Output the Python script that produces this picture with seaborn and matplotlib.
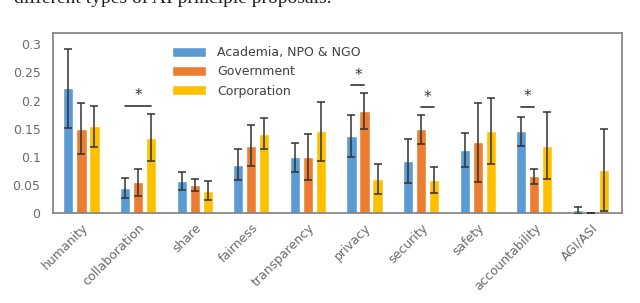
import matplotlib
matplotlib.use("Agg")

import numpy as np
import pandas as pd
import seaborn as sns
import matplotlib.pyplot as plt

# ---------------------------------------------------------------- data
categories = ["humanity", "collaboration", "share", "fairness", "transparency",
              "privacy", "security", "safety", "accountability", "AGI/ASI"]
groups = ["Academia, NPO & NGO", "Government", "Corporation"]

academia = [0.222, 0.044, 0.057, 0.086, 0.099, 0.137, 0.092, 0.112, 0.145, 0.005]
government = [0.150, 0.055, 0.050, 0.120, 0.100, 0.181, 0.149, 0.126, 0.065, 0.0]
corporation = [0.154, 0.134, 0.040, 0.141, 0.145, 0.061, 0.059, 0.146, 0.120, 0.076]

academia_err = [0.070, 0.018, 0.016, 0.028, 0.026, 0.038, 0.039, 0.030, 0.026, 0.006]
government_err = [0.045, 0.024, 0.011, 0.036, 0.041, 0.032, 0.026, 0.070, 0.013, 0.0]
corporation_err = [0.036, 0.042, 0.017, 0.028, 0.053, 0.027, 0.023, 0.059, 0.060, 0.073]

# significance marks: category, bar index from / to, line height
star_cats = ["collaboration", "privacy", "security", "accountability"]
star_from = [0, 0, 1, 0]
star_to = [2, 1, 2, 1]
star_y = [0.191, 0.227, 0.188, 0.189]

colors = ["#5B9BD5", "#ED7D31", "#FFC000"]

df = pd.DataFrame({
    "category": categories * 3,
    "group": [groups[0]] * 10 + [groups[1]] * 10 + [groups[2]] * 10,
    "value": academia + government + corporation,
    "err": academia_err + government_err + corporation_err,
})

# ---------------------------------------------------------------- plot
sns.set_style("white")
plt.rcParams["font.family"] = ["DejaVu Sans"]

fig = plt.figure(figsize=(6.4, 3.03), dpi=100)
ax = fig.add_axes([0.083, 0.297, 0.889, 0.594])

sns.barplot(data=df, x="category", y="value", hue="group", palette=colors,
            order=categories, hue_order=groups, errorbar=None,
            width=0.69, gap=0.22, saturation=1, ax=ax)

# error bars on top of the seaborn bars
bar_x = {}
bar_containers = list(ax.containers)
for gi, cont in enumerate(bar_containers):
    g = groups[gi]
    sub = df[df["group"] == g].set_index("category").loc[categories]
    xs = [p.get_x() + p.get_width() / 2 for p in cont.patches]
    for ci, c in enumerate(categories):
        bar_x[(c, gi)] = xs[ci]
    ax.errorbar(xs, sub["value"], yerr=sub["err"], fmt="none",
                ecolor="#333333", elinewidth=1.3, capsize=3, capthick=1.3,
                alpha=0.85, zorder=5)

for c, a, b, y in zip(star_cats, star_from, star_to, star_y):
    x0, x1 = bar_x[(c, a)], bar_x[(c, b)]
    ax.plot([x0, x1], [y, y], color="#333333", lw=1.2, zorder=6)
    ax.text((x0 + x1) / 2, y + 0.004, "*", ha="center", va="bottom",
            fontsize=11, color="#333333")

ax.set_xlim(-0.5, 9.55)
ax.set_ylim(0, 0.32)
ax.set_yticks([0, 0.05, 0.1, 0.15, 0.2, 0.25, 0.3])
ax.set_yticklabels(["0", "0.05", "0.1", "0.15", "0.2", "0.25", "0.3"])
ax.tick_params(axis="y", length=0, pad=9, labelsize=9, labelcolor="#6a6a6a")
ax.tick_params(axis="x", length=0, pad=6, labelsize=9, labelcolor="#6a6a6a")
plt.setp(ax.get_xticklabels(), rotation=45, ha="right", rotation_mode="anchor")
ax.set_xlabel("")
ax.set_ylabel("")

for s in ax.spines.values():
    s.set_visible(True)
    s.set_color("#7f7f7f")
    s.set_linewidth(1.2)

ax.legend(loc="upper left", bbox_to_anchor=(0.19, 0.99), frameon=False,
          fontsize=9, handlelength=2.7, handleheight=0.9, labelspacing=0.5,
          handletextpad=0.9, labelcolor="#404040")

# caption from the page above, cut off at the top
fig.text(0.518, 1 - 3 / 303, "different types of AI principle proposals.",
         ha="right", va="baseline", fontsize=14, family=["Liberation Serif", "DejaVu Serif"],
         color="#202020")

plt.savefig("out.png", dpi=100)
